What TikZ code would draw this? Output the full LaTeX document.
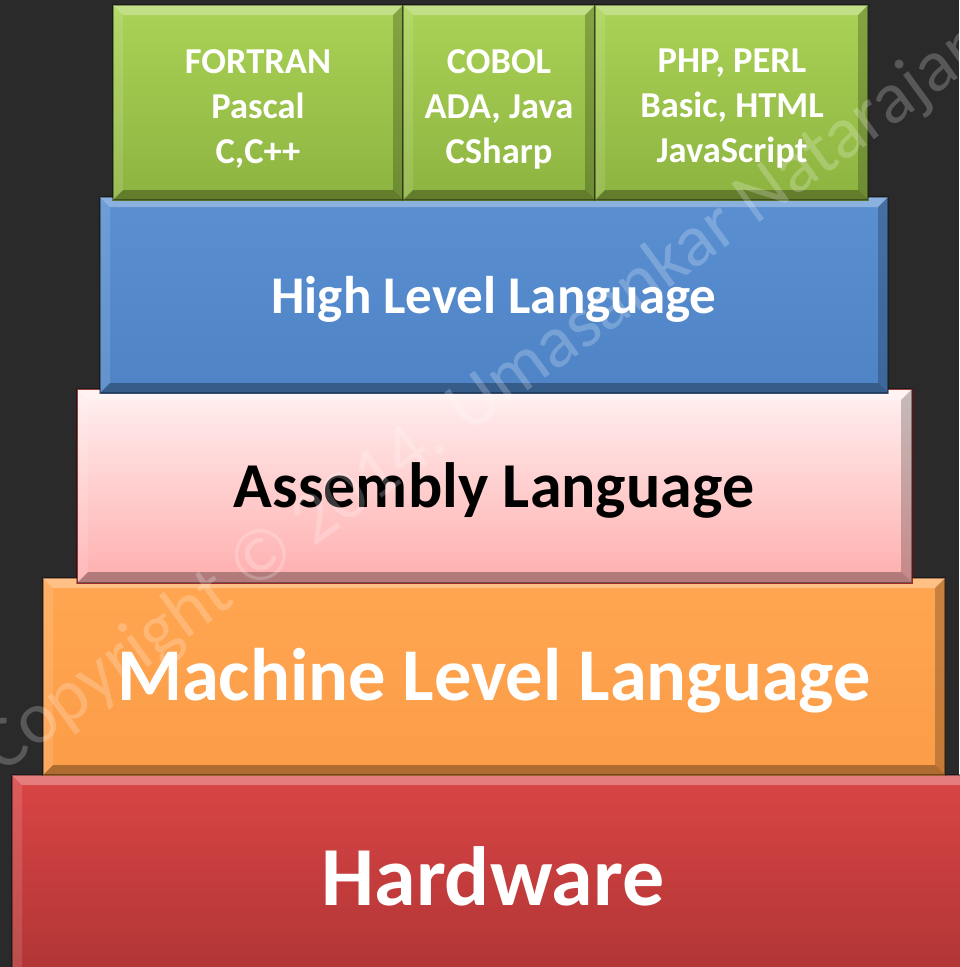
\documentclass[tikz,border=0pt]{standalone}
\usepackage{fontspec}
\setmainfont{Carlito}
\definecolor{bg}{HTML}{2A2A2A}
\definecolor{grT}{HTML}{AAD356}
\definecolor{grB}{HTML}{8DB340}
\definecolor{blT}{HTML}{5A90D2}
\definecolor{blB}{HTML}{4E84C6}
\definecolor{pkT}{HTML}{FFF0F0}
\definecolor{pkB}{HTML}{FFAEAE}
\definecolor{orT}{HTML}{FFA651}
\definecolor{orB}{HTML}{FC9C47}
\definecolor{rdT}{HTML}{DA4545}
\definecolor{rdB}{HTML}{AE3434}
\newcommand\bevbox[7]{%
  \fill[top color=#5,bottom color=#6] (#1,#2) rectangle (#3,#4);
  \fill[white,opacity=.30] (#1,#2) -- (#3,#2) -- ({#3-#7},{#2+#7}) -- ({#1+#7},{#2+#7}) -- cycle;
  \fill[white,opacity=.12] (#1,#2) -- ({#1+#7},{#2+#7}) -- ({#1+#7},{#4-#7}) -- (#1,#4) -- cycle;
  \fill[black,opacity=.22] (#3,#2) -- (#3,#4) -- ({#3-#7},{#4-#7}) -- ({#3-#7},{#2+#7}) -- cycle;
  \fill[black,opacity=.30] (#1,#4) -- (#3,#4) -- ({#3-#7},{#4-#7}) -- ({#1+#7},{#4-#7}) -- cycle;
  \draw[black,opacity=.35,line width=1.2pt] (#1,#2) rectangle (#3,#4);
}
\tikzset{
  small/.style={text=white,font=\fontsize{36.5}{45}\selectfont\bfseries,align=center},
  big/.style={font=\bfseries}
}
\begin{document}
\begin{tikzpicture}[x=1pt,y=-1pt]
\fill[bg] (0,0) rectangle (959,967);
\useasboundingbox (0,0) rectangle (959,967);
% red
\bevbox{12}{775}{975}{985}{rdT}{rdB}{10}
% orange
\bevbox{43}{578}{945}{775}{orT}{orB}{10}
% pink
\bevbox{77}{389}{912}{583}{pkT}{pkB}{11}
\draw[red!60!black,line width=1pt,opacity=.6] (77,389) rectangle (912,583);
% blue
\bevbox{100}{197}{888}{393}{blT}{blB}{10}
% green
\bevbox{113}{5}{403}{200}{grT}{grB}{10}
\bevbox{403}{5}{595}{200}{grT}{grB}{10}
\bevbox{595}{5}{868}{200}{grT}{grB}{10}
% texts
\node[small] (g1) at (258,109) {FORTRAN\\Pascal\\C,C++};
\node[small] (g2) at (499,109) {COBOL\\ADA, Java\\CSharp};
\node[small] (g3) at (732,109) {PHP, PERL\\Basic, HTML\\JavaScript};
\node[big,text=white,font=\fontsize{53}{60}\selectfont\bfseries] (hl) at (494,299) {High Level Language};
\node[big,text=black,font=\fontsize{64}{70}\selectfont\bfseries] (al) at (494,490) {Assembly Language};
\node[big,text=white,font=\fontsize{74.5}{80}\selectfont\bfseries] (ml) at (494,681) {Machine Level Language};
\node[big,text=white,font=\fontsize{84}{90}\selectfont\bfseries] (hw) at (493,876) {Hardware};
% watermark
\node[text=white,opacity=.22,rotate=36,font=\fontsize{74}{80}\selectfont] (wm) at (486,398) {Copyright © 2014. Umasankar Natarajan};
\end{tikzpicture}
\end{document}
